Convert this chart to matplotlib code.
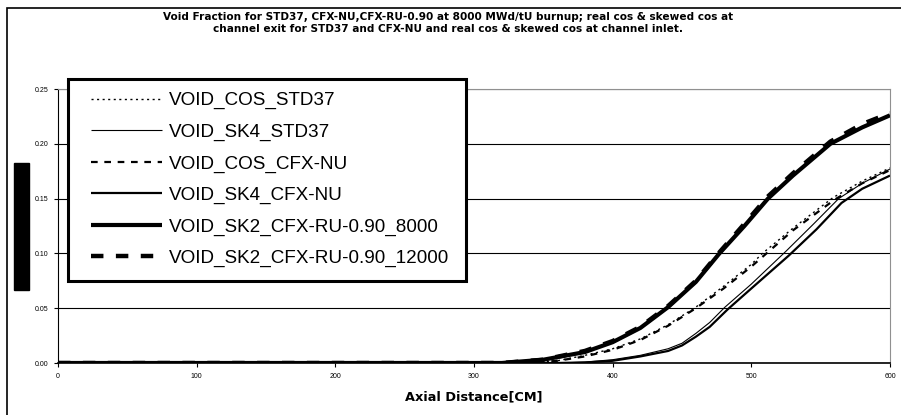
import matplotlib
matplotlib.use("Agg")
from matplotlib import pyplot as plt
from matplotlib.patches import Rectangle

plt.rcParams['font.family'] = ['Liberation Sans', 'DejaVu Sans']

W, H = 901, 415

# Axial distance [cm] and void fraction
x_cos_std = [0, 340, 360, 380, 400, 420, 440, 460, 480, 500, 508, 530, 559, 580, 600]
y_cos_std = [0, 0, 0.002, 0.007, 0.013, 0.022, 0.035, 0.051, 0.070, 0.090, 0.100, 0.123, 0.151, 0.166, 0.178]

x_sk4_std = [0, 360, 380, 400, 420, 440, 450, 460, 470, 481, 500, 525, 545, 563, 580, 600]
y_sk4_std = [0, 0, 0.0008, 0.003, 0.007, 0.013, 0.018, 0.027, 0.037, 0.051, 0.072, 0.102, 0.127, 0.150, 0.164, 0.177]

x_cos_nu = [0, 340, 360, 380, 400, 420, 440, 460, 480, 500, 510, 530, 560, 580, 600]
y_cos_nu = [0, 0, 0.002, 0.006, 0.012, 0.021, 0.034, 0.050, 0.068, 0.088, 0.099, 0.121, 0.149, 0.164, 0.176]

x_sk4_nu = [0, 360, 380, 400, 420, 440, 450, 460, 470, 483, 500, 527, 547, 565, 580, 600]
y_sk4_nu = [0, 0, 0.0005, 0.002, 0.006, 0.011, 0.016, 0.024, 0.033, 0.049, 0.068, 0.098, 0.122, 0.146, 0.159, 0.171]

x_sk2_8000 = [0, 320, 350, 380, 400, 420, 440, 460, 477, 495, 512, 530, 557, 580, 600]
y_sk2_8000 = [0, 0, 0.003, 0.010, 0.019, 0.032, 0.051, 0.074, 0.100, 0.125, 0.150, 0.171, 0.200, 0.215, 0.226]

x_sk2_12000 = [0, 320, 350, 380, 400, 420, 440, 460, 477, 495, 512, 530, 557, 580, 600]
y_sk2_12000 = [0, 0, 0.003, 0.011, 0.020, 0.033, 0.052, 0.075, 0.101, 0.127, 0.152, 0.173, 0.202, 0.218, 0.228]

labels = ['VOID_COS_STD37', 'VOID_SK4_STD37', 'VOID_COS_CFX-NU',
          'VOID_SK4_CFX-NU', 'VOID_SK2_CFX-RU-0.90_8000', 'VOID_SK2_CFX-RU-0.90_12000']

title = ('Void Fraction for STD37, CFX-NU,CFX-RU-0.90 at 8000 MWd/tU burnup; real cos & skewed cos at\n'
         'channel exit for STD37 and CFX-NU and real cos & skewed cos at channel inlet.')

fig = plt.figure(figsize=(W / 100, H / 100), dpi=100)
ax = fig.add_axes([58 / W, 1 - 363 / H, 832 / W, 274 / H])

series = [
    (x_cos_std, y_cos_std, dict(lw=1.0, ls=(0, (1.5, 2.5)))),
    (x_sk4_std, y_sk4_std, dict(lw=0.8, ls='-')),
    (x_cos_nu, y_cos_nu, dict(lw=1.6, ls=(0, (3, 3)))),
    (x_sk4_nu, y_sk4_nu, dict(lw=1.6, ls='-')),
    (x_sk2_8000, y_sk2_8000, dict(lw=3.0, ls='-')),
    (x_sk2_12000, y_sk2_12000, dict(lw=3.2, ls=(0, (2.8, 2.8)))),
]
handles = []
for (xs, ys, st), lab in zip(series, labels):
    h, = ax.plot(xs, ys, color='black', label=lab, solid_capstyle='butt', **st)
    handles.append(h)

ax.set_xlim(0, 600)
ax.set_ylim(0, 0.25)
ax.set_xticks(range(0, 601, 100))
ax.set_yticks([0, 0.05, 0.10, 0.15, 0.20, 0.25])
ax.set_yticklabels(['%.2f' % v for v in ax.get_yticks()])
ax.tick_params(labelsize=5, length=3, width=0.8, direction='out', pad=4, colors='black')
ax.yaxis.grid(True, color='black', lw=0.8)
ax.set_axisbelow(True)
for s in ['top', 'right']:
    ax.spines[s].set_color('#909090')
for s in ['left', 'bottom']:
    ax.spines[s].set_color('black')
ax.spines['bottom'].set_linewidth(1.2)

ax.set_xlabel('Axial Distance[CM]', fontsize=9.3, fontweight='bold', labelpad=8,
              family='DejaVu Sans')

fig.text(0.497, 1 - 23 / H, title, ha='center', va='center', fontsize=7.6,
         fontweight='bold', linespacing=1.35, family='DejaVu Sans')

# legend box: white filled, drawn above the axes but below the legend entries
fig.add_artist(Rectangle((68 / W, 1 - 281 / H), 398 / W, 202 / H,
                         transform=fig.transFigure, facecolor='white', lw=2.2,
                         edgecolor='black', zorder=2))
leg = fig.legend(handles=handles, loc='upper left',
                 bbox_to_anchor=(91 / W, 1 - 92 / H), frameon=False,
                 prop={'size': 13.6}, handlelength=3.75, handletextpad=0.37,
                 labelspacing=0.75, borderpad=0, borderaxespad=0)
leg.set_zorder(5)

# black block where the y-axis title sits
fig.add_artist(Rectangle((14 / W, 1 - 290 / H), 15 / W, 127 / H,
                         transform=fig.transFigure, color='black'))

# outer chart border
fig.add_artist(Rectangle((7 / W, -0.1), 1.2, 1 - 8 / H + 0.1,
                         transform=fig.transFigure, fill=False, lw=1.2,
                         edgecolor='black'))

fig.savefig('out.png', dpi=100)
